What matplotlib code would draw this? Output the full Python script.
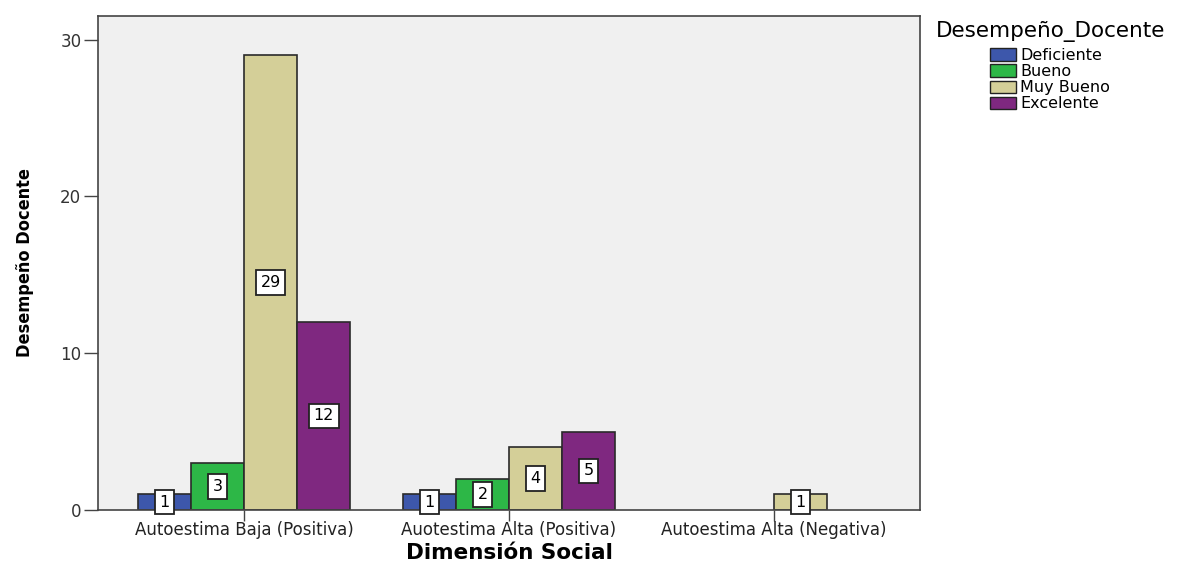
import numpy as np
import matplotlib.pyplot as plt
from matplotlib.patches import Patch

categorias = ['Autoestima Baja (Positiva)', 'Auotestima Alta (Positiva)', 'Autoestima Alta (Negativa)']
niveles = ['Deficiente', 'Bueno', 'Muy Bueno', 'Excelente']
deficiente = [1, 1, 0]
bueno = [3, 2, 0]
muy_bueno = [29, 4, 1]
excelente = [12, 5, 0]
colores = ['#3d57ab', '#2db747', '#d4cf98', '#7f2880']

series = [deficiente, bueno, muy_bueno, excelente]

plt.rcParams['font.family'] = 'DejaVu Sans'
fig = plt.figure(figsize=(11.84, 5.62), dpi=100)
ax = fig.add_axes([0.0828, 0.0925, 0.6942, 0.879])
ax.set_facecolor('#f0f0f0')

x = np.arange(len(categorias))
w = 0.2
for i, (vals, col) in enumerate(zip(series, colores)):
    off = (i - 1.5) * w
    for xi, v in zip(x, vals):
        if v == 0:
            continue  # SPSS no dibuja barras vacias
        ax.bar(xi + off, v, w, color=col, edgecolor='#2a2a2a', linewidth=1.2)
        ax.text(xi + off, v / 2, str(v), ha='center', va='center', fontsize=11.5,
                bbox=dict(boxstyle='square,pad=0.3', fc='white', ec='#222222', lw=1.3))

ax.set_xlim(-0.551, 2.551)
ax.set_ylim(0, 31.5)
ax.set_yticks([0, 10, 20, 30])
ax.set_xticks(x)
ax.set_xticklabels(categorias, fontsize=12)
ax.tick_params(axis='y', labelsize=12, length=10, width=1, color='#444444', labelcolor='#333333', pad=2)
ax.tick_params(axis='x', length=8, width=1, color='#444444', labelcolor='#222222', pad=0)
for s in ax.spines.values():
    s.set_color('#444444')
    s.set_linewidth(1.2)

ax.set_xlabel('Dimensión Social', fontsize=15.5, fontweight='bold', va='center')
ax.xaxis.set_label_coords(0.5, -0.087)
ax.set_ylabel('Desempeño Docente', fontsize=13, fontweight='bold', fontstretch='condensed', va='center')
ax.yaxis.set_label_coords(-0.089, 0.5)

fig.text(936 / 1184, 1 - 32 / 562, 'Desempeño_Docente', fontsize=15.5, ha='left', va='center')
handles = [Patch(facecolor=c, edgecolor='#222222', label=n) for c, n in zip(colores, niveles)]
leg = fig.legend(handles=handles, loc='upper left',
                 bbox_to_anchor=(990 / 1184, 1 - 48 / 562), frameon=False, fontsize=11.5,
                 handlelength=1.6, handleheight=0.8, borderpad=0, borderaxespad=0,
                 handletextpad=0.3, labelspacing=0.07)

plt.savefig('out.png', dpi=100)
